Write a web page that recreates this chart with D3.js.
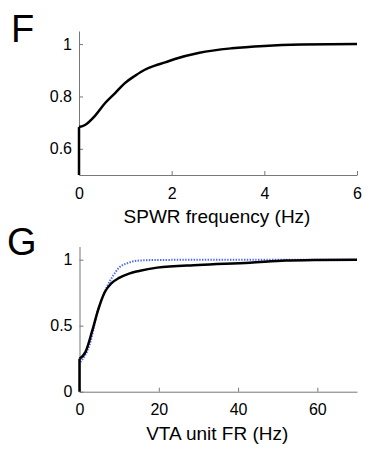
<!DOCTYPE html>
<html>
<head>
<meta charset="utf-8">
<script src="https://cdn.jsdelivr.net/npm/d3@7"></script>
<style>
  body { margin: 0; background: #fff; }
  text { font-family: "Liberation Sans", Arial, sans-serif; fill: #000; }
  .axis path, .axis line { stroke: #777; }
  .axis text { font-size: 16px; font-family: "Liberation Sans", Arial, sans-serif; fill: #000; }
</style>
</head>
<body>
<div id="chart-area"></div>
<script>
// panel F: SPWR frequency
const fX = [0, 0.13, 0.345, 0.56, 0.78, 0.99, 1.21, 1.42, 1.64, 1.86, 2.07, 2.6, 3.3, 4.0, 4.8, 6];
const fY = [0.683, 0.691, 0.726, 0.774, 0.813, 0.851, 0.879, 0.902, 0.918, 0.930, 0.943, 0.967, 0.984, 0.993, 0.998, 1.0];
const fTicksX = [0, 2, 4, 6];
const fTicksY = [0.6, 0.8, 1];

// panel G: VTA unit FR
const gX = [0, 1.5, 3.2, 4.7, 6.4, 8.0, 10, 12.5, 15, 19.6, 30, 43, 52, 60, 70];
const gBlack = [0.25, 0.3, 0.46, 0.62, 0.755, 0.82, 0.862, 0.895, 0.915, 0.94, 0.96, 0.977, 0.993, 0.998, 1.0];
const gBlueX = [0.2, 2.6, 4.5, 7.0, 8.5, 10, 12.2, 14.4, 20, 35, 50, 70];
const gBlue = [0.225, 0.36, 0.6, 0.8, 0.88, 0.94, 0.975, 0.992, 0.998, 1.0, 1.0, 1.0];
const gTicksX = [0, 20, 40, 60];
const gTicksY = [0, 0.5, 1];

const svg = d3.select('#chart-area')
  .append('svg')
  .attr('width', 375)
  .attr('height', 455);

const drawPanel = cfg => {
  let { xDom, xRange, yDom, yRange, xTicks, yTicks, xPad, label, labelY, letter, letterX, letterY } = cfg;
  let x = d3.scaleLinear().domain(xDom).range(xRange);
  let y = d3.scaleLinear().domain(yDom).range(yRange);
  let g = svg.append('g');

  g.append('g')
    .attr('class', 'axis')
    .attr('transform', `translate(0, ${yRange[0]})`)
    .call(d3.axisBottom(x).tickValues(xTicks).tickSizeInner(-4).tickSizeOuter(0).tickPadding(xPad).tickFormat(d3.format('')));

  g.append('g')
    .attr('class', 'axis')
    .attr('transform', `translate(${xRange[0]}, 0)`)
    .call(d3.axisLeft(y).tickValues(yTicks).tickSizeInner(-4).tickSizeOuter(0).tickPadding(7).tickFormat(d3.format('')));

  // axis label
  g.append('text')
    .attr('x', (xRange[0] + xRange[1]) / 2 - 1)
    .attr('y', labelY)
    .attr('text-anchor', 'middle')
    .attr('font-size', '19px')
    .text(label);

  // panel letter
  g.append('text')
    .attr('x', letterX)
    .attr('y', letterY)
    .attr('font-size', '38px')
    .text(letter);

  return { g, x, y };
};

const drawLine = (panel, xs, ys, style) => {
  let { g, x, y } = panel;
  let pts = xs.map((d, i) => [d, ys[i]]);
  let line = d3.line()
    .x(d => x(d[0]))
    .y(d => y(d[1]))
    .curve(d3.curveMonotoneX);
  let p = g.append('path')
    .datum(pts)
    .attr('d', line)
    .attr('fill', 'none')
    .attr('stroke', style.color)
    .attr('stroke-width', style.width)
    .attr('stroke-linejoin', 'round');
  if (style.dash) p.attr('stroke-dasharray', style.dash);
  if (style.drop) {
    // vertical rise at x = 0 from the floor of the axis
    g.append('line')
      .attr('x1', x(xs[0])).attr('x2', x(xs[0]))
      .attr('y1', y(y.domain()[0])).attr('y2', y(ys[0]))
      .attr('stroke', style.color)
      .attr('stroke-width', style.width);
  }
};

const panelF = drawPanel({
  xDom: [0, 6], xRange: [79, 357],
  yDom: [0.5, 1.05], yRange: [175, 31],
  xTicks: fTicksX, yTicks: fTicksY, xPad: 13,
  label: 'SPWR frequency (Hz)', labelY: 223,
  letter: 'F', letterX: 11, letterY: 42
});
drawLine(panelF, fX, fY, { color: '#000', width: 2.5, drop: true });

const panelG = drawPanel({
  xDom: [0, 70], xRange: [79.5, 357],
  yDom: [0, 1.1], yRange: [391.7, 246.5],
  xTicks: gTicksX, yTicks: gTicksY, xPad: 12,
  label: 'VTA unit FR (Hz)', labelY: 440,
  letter: 'G', letterX: 7, letterY: 255
});
drawLine(panelG, gBlueX, gBlue, { color: '#4a66ff', width: 2, dash: '1.4,1.4' });
drawLine(panelG, gX, gBlack, { color: '#000', width: 2.5, drop: true });
</script>
</body>
</html>
